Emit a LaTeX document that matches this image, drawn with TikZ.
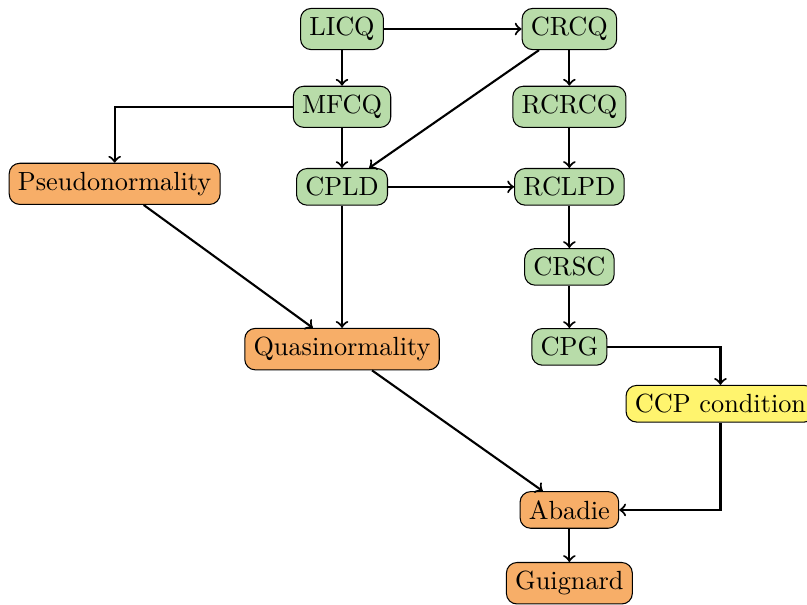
\documentclass[tikz,border=0pt]{standalone}
\usepackage{tikz}
\usetikzlibrary{positioning}
\definecolor{cqgreen}{HTML}{B8DCA9}
\definecolor{normorange}{HTML}{F7AE68}
\definecolor{ccpyellow}{HTML}{FFF46E}

\begin{document}
\begin{tikzpicture}[
  on grid,
  cq/.style={rectangle,rounded corners,draw,fill=cqgreen},
  nrm/.style={rectangle,rounded corners,draw,fill=normorange},
  ccp/.style={rectangle,rounded corners,draw,fill=ccpyellow},
  imp/.style={->,thick}
]
\useasboundingbox (-4.573,0.388) rectangle (6.217,-7.688);
\node[cq] (licq) {LICQ};
\node[cq,right=3.04cm of licq] (crcq) {CRCQ};
\node[cq,below=1.04cm of licq] (mfcq) {MFCQ};
\node[cq,below=1.04cm of crcq] (rcrcq) {RCRCQ};
\node[cq,below=1.07cm of mfcq] (cpld) {CPLD};
\node[cq,below=1.07cm of rcrcq] (rclpd) {RCLPD};
\node[nrm,left=3.04cm of cpld,yshift=0.04cm] (pseudo) {Pseudonormality};
\node[cq,below=1.07cm of rclpd] (crsc) {CRSC};
\node[cq,below=1.07cm of crsc] (cpg) {CPG};
\node[nrm,below=2.17cm of cpld] (quasi) {Quasinormality};
\node[ccp,below right=0.76cm and 2.02cm of cpg] (ccpc) {CCP condition};
\node[nrm,below=2.18cm of cpg] (abadie) {Abadie};
\node[nrm,below=0.98cm of abadie] (guig) {Guignard};

\draw[imp] (licq) -- (crcq);
\draw[imp] (licq) -- (mfcq);
\draw[imp] (crcq) -- (rcrcq);
\draw[imp] (crcq) -- (cpld);
\draw[imp] (mfcq) -| (pseudo);
\draw[imp] (mfcq) -- (cpld);
\draw[imp] (rcrcq) -- (rclpd);
\draw[imp] (cpld) -- (rclpd);
\draw[imp] (rclpd) -- (crsc);
\draw[imp] (crsc) -- (cpg);
\draw[imp] (pseudo) -- (quasi);
\draw[imp] (cpld) -- (quasi);
\draw[imp] (quasi) -- (abadie);
\draw[imp] (cpg) -| (ccpc);
\draw[imp] (ccpc) |- (abadie);
\draw[imp] (abadie) -- (guig);
\end{tikzpicture}
\end{document}
